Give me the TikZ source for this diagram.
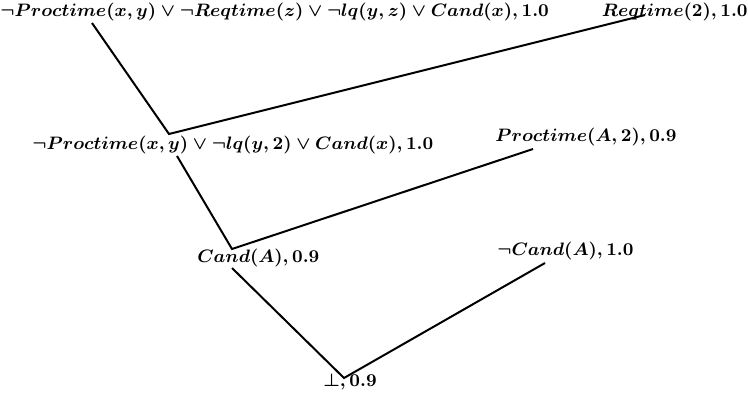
\documentclass[tikz,border=0pt]{standalone}
\usepackage{amsmath, amssymb}
\usepackage{tikz}
\usetikzlibrary{positioning}

\begin{document}
\begin{tikzpicture}[
    x=0.5pt, y=-0.5pt,
    clause/.style={inner sep=0pt, anchor=west, font=\fontsize{8.8}{10}\selectfont\boldmath},
    res/.style={draw=black, line width=1pt}
]
    \useasboundingbox (0,0) rectangle (748,396);

    % clauses
    \node [clause] (c_top) at (0,12) {$\neg Proctime(x,y) \vee \neg Reqtime(z) \vee \neg lq(y,z) \vee Cand(x), 1.0$};
    \node [clause, anchor=east] (c_req) at (748,12) {$Reqtime(2), 1.0$};
    \node [clause] (c_mid) at (32,145) {$\neg Proctime(x,y) \vee \neg lq(y,2) \vee Cand(x), 1.0$};
    \node [clause] (c_proc) at (495,137) {$Proctime(A,2), 0.9$};
    \node [clause] (c_cand) at (197,258) {$Cand(A), 0.9$};
    \node [clause] (c_ncand) at (497,251) {$\neg Cand(A), 1.0$};
    \node [clause] (c_bot) at (323,382) {$\bot, 0.9$};

    % line ends
    \coordinate (top_out) at (92,23);
    \coordinate (req_out) at (645,15);
    \coordinate (j1) at (169,134);
    \coordinate (mid_out) at (177,156);
    \coordinate (proc_out) at (533,149);
    \coordinate (j2) at (232,249);
    \coordinate (cand_out) at (232,268);
    \coordinate (ncand_out) at (545,263);
    \coordinate (j3) at (344,378);

    \draw [res] (top_out) -- (j1) -- (req_out);
    \draw [res] (mid_out) -- (j2) -- (proc_out);
    \draw [res] (cand_out) -- (j3) -- (ncand_out);

\end{tikzpicture}
\end{document}
